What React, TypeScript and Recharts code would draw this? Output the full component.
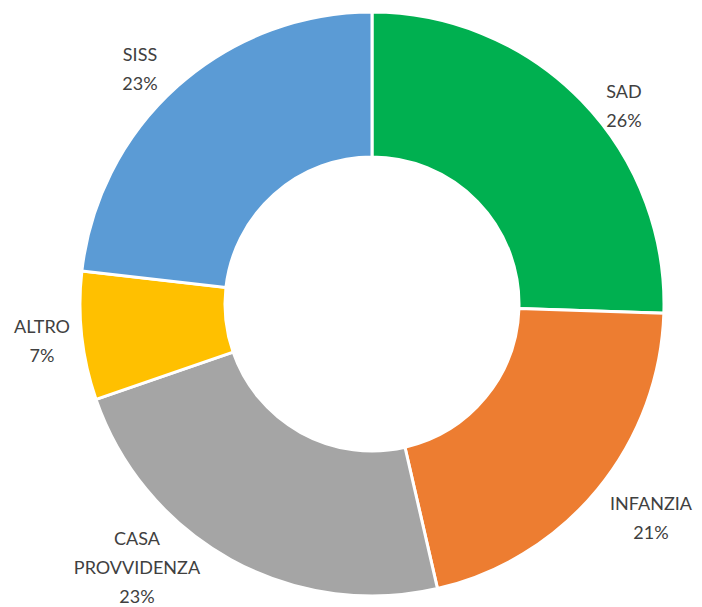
import React from 'react';
import { PieChart, Pie, Cell } from 'recharts';

const categories = ['SAD', 'INFANZIA', 'CASA PROVVIDENZA', 'ALTRO', 'SISS'];
const shares = [25.5, 20.9, 23.3, 7.1, 23.2];
const COLORS = ['#00B050', '#ED7D31', '#A5A5A5', '#FFC000', '#5B9BD5'];

// label block centres, relative to the pie centre
const LABEL_OFFSET: [number, number][] = [
    [252, -199],
    [279, 213],
    [-235, 263],
    [-330, 36],
    [-232, -236],
];

const data = categories.map((name, i) => ({ name, value: shares[i] }));

const LINE_H = 29;

const renderLabel = (props: any) => {
    const { cx, cy, index, name, percent } = props;
    const [dx, dy] = LABEL_OFFSET[index];
    // CASA PROVVIDENZA wraps onto two lines like in the original
    const words = index === 2 ? name.split(' ') : [name];
    const lines = [...words, `${Math.round(percent * 100)}%`];
    const x = cx + dx;
    const top = cy + dy - ((lines.length - 1) * LINE_H) / 2;
    return (
        <text
            x={x}
            y={top}
            textAnchor="middle"
            dominantBaseline="central"
            fill="#404040"
            fontSize={18}
            fontFamily="Lato, 'Open Sans', sans-serif"
        >
            {lines.map((l, i) => (
                <tspan key={i} x={x} y={top + i * LINE_H}>{l}</tspan>
            ))}
        </text>
    );
};

export default function App() {
    return (
        <div style={{ position: 'absolute', left: 0, top: 0, width: 702, height: 607, background: '#fff' }}>
            <PieChart width={702} height={607} margin={{ top: 0, right: 0, bottom: 0, left: 0 }}>
                <Pie
                    data={data}
                    dataKey="value"
                    nameKey="name"
                    cx={372}
                    cy={304}
                    innerRadius={147}
                    outerRadius={292}
                    startAngle={90}
                    endAngle={-270}
                    stroke="#fff"
                    strokeWidth={3}
                    label={renderLabel}
                    labelLine={false}
                    isAnimationActive={false}
                >
                    {data.map((entry, index) => (
                        <Cell key={`cell-${index}`} fill={COLORS[index]} />
                    ))}
                </Pie>
            </PieChart>
        </div>
    );
}
